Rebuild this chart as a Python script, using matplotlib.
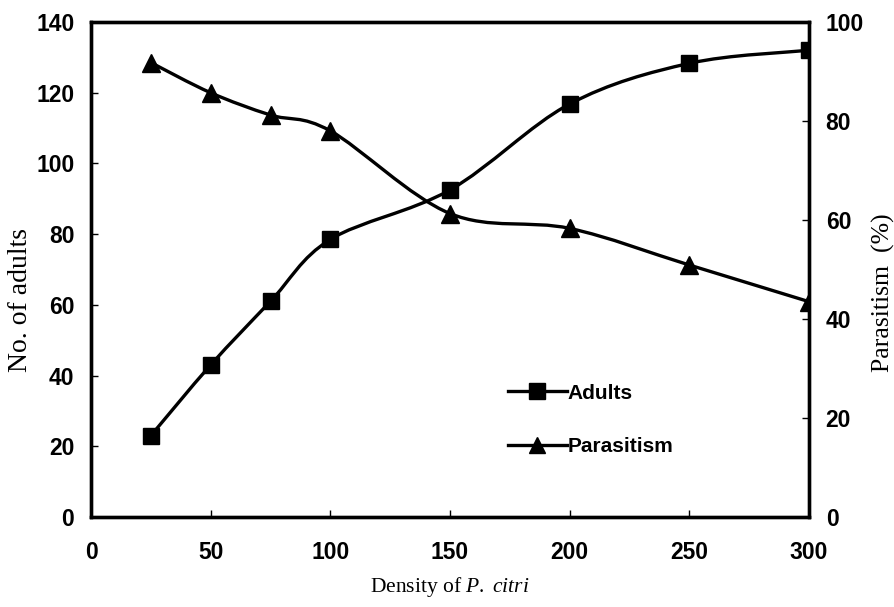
import matplotlib.pyplot as plt
from matplotlib.path import Path
from matplotlib.patches import PathPatch
from matplotlib.lines import Line2D

plt.rcParams['mathtext.fontset'] = 'custom'
plt.rcParams['mathtext.rm'] = 'Liberation Serif'
plt.rcParams['mathtext.it'] = 'Liberation Serif:italic'

density = [25, 50, 75, 100, 150, 200, 250, 300]
adults = [23.0, 43.0, 61.0, 78.5, 92.5, 116.8, 128.3, 132.0]
parasitism = [91.8, 85.7, 81.2, 78.0, 61.3, 58.3, 50.9, 43.5]

x_ticks = [0, 50, 100, 150, 200, 250, 300]
left_ticks = [0, 20, 40, 60, 80, 100, 120, 140]
right_ticks = [0, 20, 40, 60, 80, 100]

tick_font = {'family': 'Liberation Sans', 'weight': 'bold', 'size': 16.5}


def smooth_path(xs, ys):
    # Catmull-Rom style bezier through the points (like Excel smoothed lines)
    verts = [(xs[0], ys[0])]
    codes = [Path.MOVETO]
    n = len(xs)
    for i in range(n - 1):
        x0, y0 = (xs[i - 1], ys[i - 1]) if i > 0 else (xs[i], ys[i])
        x1, y1 = xs[i], ys[i]
        x2, y2 = xs[i + 1], ys[i + 1]
        x3, y3 = (xs[i + 2], ys[i + 2]) if i + 2 < n else (x2, y2)
        c1 = (x1 + (x2 - x0) / 6, y1 + (y2 - y0) / 6)
        c2 = (x2 - (x3 - x1) / 6, y2 - (y3 - y1) / 6)
        verts += [c1, c2, (x2, y2)]
        codes += [Path.CURVE4] * 3
    return Path(verts, codes)


fig = plt.figure(figsize=(8.95, 6.07), dpi=100)
ax = fig.add_axes([0.1017, 0.1483, 0.8022, 0.8155])
ax2 = ax.twinx()

ax.add_patch(PathPatch(smooth_path(density, adults), fill=False, lw=2.4, color='black'))
ax.plot(density, adults, ls='none', marker='s', ms=12, color='black')
ax2.add_patch(PathPatch(smooth_path(density, parasitism), fill=False, lw=2.4, color='black'))
ax2.plot(density, parasitism, ls='none', marker='^', ms=13, color='black')

ax.set_xlim(0, 300)
ax.set_ylim(0, 140)
ax2.set_ylim(0, 100)
ax.set_xticks(x_ticks)
ax.set_yticks(left_ticks)
ax2.set_yticks(right_ticks)

for a in (ax, ax2):
    for s in a.spines.values():
        s.set_linewidth(2.4)
    a.tick_params(direction='in', length=5, width=1)
    for lab in a.get_xticklabels() + a.get_yticklabels():
        lab.set_fontproperties(tick_font)
ax.tick_params(axis='x', pad=17)
ax.tick_params(axis='y', pad=12)
ax2.tick_params(axis='y', pad=12)

ax.set_xlabel('Density of $\\mathit{P.\\ citri}$', family='Liberation Serif',
              fontsize=15.5, labelpad=8)
ax.set_ylabel('No. of adults', family='Liberation Serif', fontsize=20)
ax.yaxis.set_label_coords(-0.081, 0.438)
ax2.set_ylabel('Parasitism  (%)', family='Liberation Serif', fontsize=18.5)
ax2.yaxis.set_label_coords(1.088, 0.453)

handles = [
    Line2D([], [], color='black', lw=2.4, marker='s', ms=11),
    Line2D([], [], color='black', lw=2.4, marker='^', ms=12),
]
ax2.legend(handles, ['Adults', 'Parasitism'], frameon=False,
           loc='center left', bbox_to_anchor=(0.555, 0.196),
           prop={'family': 'Liberation Sans', 'weight': 'bold', 'size': 15},
           handlelength=2.8, handletextpad=0.05, labelspacing=1.65)

fig.savefig('out.png', dpi=100)
